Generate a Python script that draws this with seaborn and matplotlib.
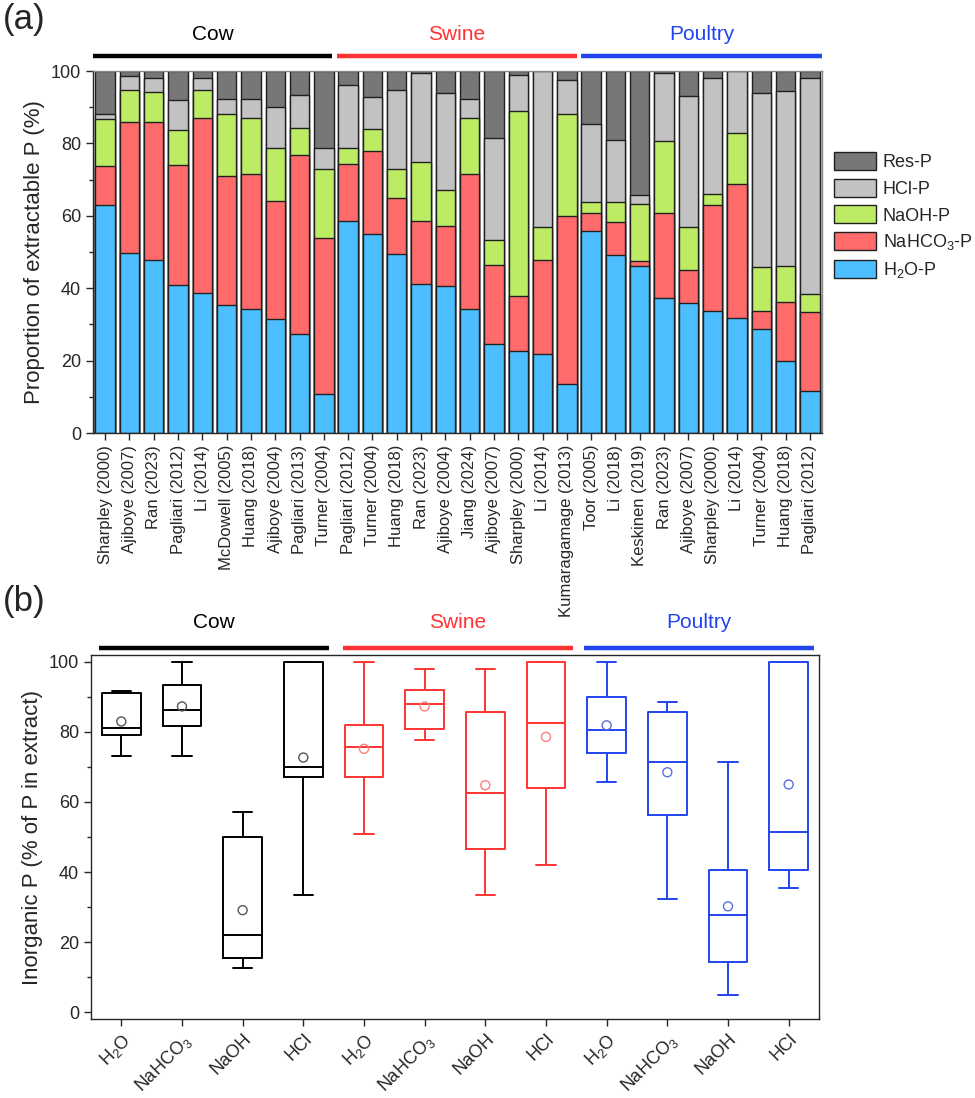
import numpy as np
import pandas as pd
import matplotlib
matplotlib.use("Agg")
import matplotlib.pyplot as plt
import matplotlib.transforms as mtransforms
from matplotlib.patches import Patch
from matplotlib.ticker import MultipleLocator
import seaborn as sns

sns.set_style("ticks")
plt.rcParams['font.family'] = ['Liberation Sans', 'DejaVu Sans']
plt.rcParams['mathtext.fontset'] = 'custom'
plt.rcParams['mathtext.rm'] = 'Liberation Sans'
plt.rcParams['mathtext.it'] = 'Liberation Sans:italic'

# ---------------- data (a) ----------------
cow_studies = ["Sharpley (2000)", "Ajiboye (2007)", "Ran (2023)", "Pagliari (2012)", "Li (2014)",
               "McDowell (2005)", "Huang (2018)", "Ajiboye (2004)", "Pagliari (2013)", "Turner (2004)"]
swine_studies = ["Pagliari (2012)", "Turner (2004)", "Huang (2018)", "Ran (2023)", "Ajiboye (2004)",
                 "Jiang (2024)", "Ajiboye (2007)", "Sharpley (2000)", "Li (2014)", "Kumaragamage (2013)"]
poultry_studies = ["Toor (2005)", "Li (2018)", "Keskinen (2019)", "Ran (2023)", "Ajiboye (2007)",
                   "Sharpley (2000)", "Li (2014)", "Turner (2004)", "Huang (2018)", "Pagliari (2012)"]

h2o_p = [62.9, 49.7, 47.8, 40.8, 38.8, 35.4, 34.4, 31.5, 27.4, 10.8,
         58.5, 55.0, 49.4, 41.3, 40.7, 34.4, 24.7, 22.8, 21.8, 13.6,
         55.9, 49.2, 46.1, 37.4, 35.9, 33.7, 31.7, 28.7, 19.8, 11.6]
nahco3_p = [11.0, 36.1, 38.2, 33.2, 48.1, 35.7, 37.2, 32.5, 49.3, 43.0,
            15.8, 22.9, 15.6, 17.2, 16.5, 37.1, 21.7, 15.0, 26.0, 46.3,
            5.0, 9.0, 1.3, 23.3, 9.1, 29.2, 37.2, 5.1, 16.3, 21.8]
naoh_p = [12.9, 9.1, 8.3, 9.8, 8.0, 16.9, 15.4, 14.7, 7.5, 19.1,
          4.5, 6.0, 7.9, 16.3, 9.9, 15.6, 7.0, 51.2, 9.1, 28.1,
          2.8, 5.6, 15.8, 20.1, 11.9, 3.0, 13.9, 12.0, 10.0, 5.0]
hcl_p = [1.2, 3.7, 3.7, 8.1, 3.1, 4.2, 5.4, 11.5, 9.1, 5.9,
         17.3, 9.0, 21.9, 24.6, 26.7, 5.3, 28.0, 10.0, 43.1, 9.5,
         21.8, 17.1, 2.6, 18.6, 36.1, 32.1, 17.2, 48.2, 48.5, 59.6]
res_p = [12.0, 1.4, 2.0, 8.1, 2.0, 7.8, 7.6, 9.8, 6.7, 21.2,
         3.9, 7.1, 5.2, 0.6, 6.2, 7.6, 18.6, 1.0, 0.0, 2.5,
         14.5, 19.1, 34.2, 0.6, 7.0, 2.0, 0.0, 6.0, 5.4, 2.0]

fraction_names = ["H$_2$O-P", "NaHCO$_3$-P", "NaOH-P", "HCl-P", "Res-P"]
fraction_colors = ["#4DBEFF", "#FF6B6B", "#BDEB64", "#C2C2C2", "#777777"]

groups = ["Cow", "Swine", "Poultry"]
group_colors = ["#000000", "#FF3333", "#2244EE"]
mean_colors = ["#555555", "#FF7F7F", "#5A6FE0"]

# ---------------- data (b) ----------------
box_labels = ["H$_2$O", "NaHCO$_3$", "NaOH", "HCl"] * 3
box_group = ["Cow"] * 4 + ["Swine"] * 4 + ["Poultry"] * 4
box_min = [73.2, 73.0, 12.5, 33.3, 51.0, 77.6, 33.3, 42.0, 65.8, 32.4, 5.0, 35.3]
box_q1 = [79.0, 81.8, 15.4, 67.0, 67.2, 80.9, 46.5, 64.0, 74.0, 56.3, 14.3, 40.7]
box_med = [81.0, 86.4, 22.1, 70.1, 75.6, 87.9, 62.5, 82.5, 80.6, 71.4, 27.6, 51.4]
box_q3 = [91.0, 93.5, 50.0, 100.0, 82.0, 91.9, 85.7, 100.0, 90.0, 85.6, 40.5, 100.0]
box_max = [91.7, 100.0, 57.1, 100.0, 100.0, 98.1, 98.1, 100.0, 100.0, 88.7, 71.4, 100.0]
box_mean = [83.0, 87.3, 29.1, 72.7, 75.2, 87.3, 64.8, 78.6, 81.9, 68.5, 30.2, 65.0]

# ---------------- figure ----------------
fig = plt.figure(figsize=(9.75, 10.98), dpi=100)
ax1 = fig.add_axes([0.0954, 0.6056, 0.7477, 0.3297])
ax2 = fig.add_axes([0.0933, 0.0719, 0.7467, 0.3316])

# ---- (a) stacked bars ----
studies = cow_studies + swine_studies + poultry_studies
idx = list(range(len(studies)))
fractions = np.array([h2o_p, nahco3_p, naoh_p, hcl_p, res_p])
cum = np.cumsum(fractions, axis=0)
for k in range(4, -1, -1):
    sns.barplot(x=idx, y=cum[k], color=fraction_colors[k], saturation=1, width=0.8,
                edgecolor="#202020", linewidth=1.0, errorbar=None, ax=ax1)
ax1.set_xlim(-0.5, 29.5)
ax1.set_ylim(0, 100)
ax1.set_xticks(idx)
ax1.set_xticklabels(studies, rotation=90, fontsize=12)
ax1.yaxis.set_major_locator(MultipleLocator(20))
ax1.yaxis.set_minor_locator(MultipleLocator(10))
ax1.tick_params(axis='y', labelsize=13, length=5, width=1, direction='out')
ax1.tick_params(axis='y', which='minor', length=3, width=1)
ax1.tick_params(axis='x', length=5, width=1)
ax1.set_ylabel("Proportion of extractable P (%)", fontsize=16)
for s in ax1.spines.values():
    s.set_linewidth(1.0)
ax1.spines['top'].set_color("#888888")
ax1.spines['right'].set_color("#888888")

handles = [Patch(facecolor=fraction_colors[k], edgecolor="#202020", label=fraction_names[k])
           for k in range(4, -1, -1)]
fig.legend(handles=handles, loc="upper left", bbox_to_anchor=(0.848, 0.868), frameon=False,
           fontsize=13, handlelength=2.3, handleheight=1.15, labelspacing=0.42,
           handletextpad=0.4, borderaxespad=0)

tr1 = mtransforms.blended_transform_factory(ax1.transData, ax1.transAxes)
spans1 = [(-0.5, 9.35), (9.55, 19.4), (19.6, 29.5)]
for (x0, x1), g, c in zip(spans1, groups, group_colors):
    ax1.plot([x0, x1], [1.042, 1.042], color=c, lw=3.2, transform=tr1, clip_on=False,
             solid_capstyle='butt')
    ax1.text((x0 + x1) / 2, 1.10, g, color=c, fontsize=15, ha='center', va='center',
             transform=tr1)
fig.text(0.003, 0.982, "(a)", fontsize=25, ha='left', va='center')

# ---- (b) boxes ----
rows = []
for i in range(12):
    for v in (box_min[i], box_q1[i], box_med[i], box_q3[i], box_max[i]):
        rows.append({"pos": i, "val": v, "group": box_group[i]})
bdf = pd.DataFrame(rows)
sns.boxplot(data=bdf, x="pos", y="val", hue="group", hue_order=groups,
            palette=dict(zip(groups, group_colors)), fill=False, dodge=False,
            whis=(0, 100), width=0.64, linewidth=1.4, showfliers=False,
            legend=False, ax=ax2)
mdf = pd.DataFrame({"pos": list(range(12)), "mean": box_mean, "group": box_group})
for g, mc in zip(groups, mean_colors):
    sub = mdf[mdf["group"] == g]
    sns.scatterplot(x=sub["pos"], y=sub["mean"], marker='o', s=42, facecolor='none',
                    edgecolor=mc, linewidth=1.0, ax=ax2, zorder=5, legend=False)
ax2.set_xlim(-0.5, 11.5)
ax2.set_ylim(-2, 102)
ax2.set_xticks(range(12))
ax2.set_xticklabels(box_labels, rotation=45, ha='right', va='top',
                    rotation_mode='anchor', fontsize=13)
ax2.set_xlabel("")
ax2.yaxis.set_major_locator(MultipleLocator(20))
ax2.yaxis.set_minor_locator(MultipleLocator(10))
ax2.tick_params(axis='y', labelsize=13, length=5, width=1)
ax2.tick_params(axis='y', which='minor', length=3, width=1)
ax2.tick_params(axis='x', length=5, width=1)
ax2.set_ylabel("Inorganic P (% of P in extract)", fontsize=16)
for s in ax2.spines.values():
    s.set_linewidth(1.0)
    s.set_visible(True)

tr2 = mtransforms.blended_transform_factory(ax2.transData, ax2.transAxes)
spans2 = [(-0.37, 3.42), (3.65, 7.44), (7.62, 11.41)]
for (x0, x1), g, c in zip(spans2, groups, group_colors):
    ax2.plot([x0, x1], [1.019, 1.019], color=c, lw=3.2, transform=tr2, clip_on=False,
             solid_capstyle='butt')
    ax2.text((x0 + x1) / 2, 1.09, g, color=c, fontsize=15, ha='center', va='center',
             transform=tr2)
fig.text(0.003, 0.452, "(b)", fontsize=25, ha='left', va='center')

fig.savefig("out.png", dpi=100)
